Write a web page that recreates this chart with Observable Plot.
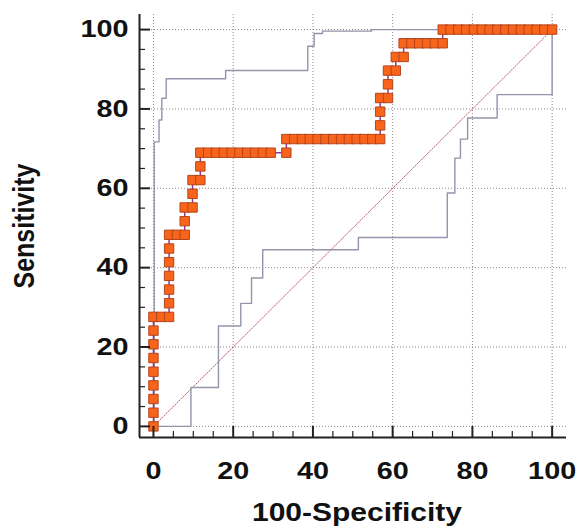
<!DOCTYPE html>
<html><head><meta charset="utf-8">
<script src="https://cdn.jsdelivr.net/npm/d3@7"></script>
<script src="https://cdn.jsdelivr.net/npm/@observablehq/plot@0.6"></script>
<style>
html,body{margin:0;padding:0;background:#fff;}
#chart svg{display:block;}
</style>
</head><body><div id="chart"></div>
<script>
// ROC curve points (100-Specificity, Sensitivity)
const rocX = [0,0,0,0,0,0,0,0,0, 1.96,3.92, 3.92,3.92,3.92,3.92,3.92,3.92, 5.88,7.84, 7.84,7.84,
  9.80,9.80,9.80, 11.76,11.76,11.76,
  13.73,15.69,17.65,19.61,21.57,23.53,25.49,27.45,29.41,33.33,
  33.33, 35.29,37.25,39.22,41.18,43.14,45.10,47.06,49.02,50.98,52.94,54.90,56.86,
  56.86,56.86,56.86, 58.82,58.82,58.82, 60.78,60.78, 62.75,62.75,
  64.71,66.67,68.63,70.59,72.55, 72.55,
  74.51,76.47,78.43,80.39,82.35,84.31,86.27,88.24,90.20,92.16,94.12,96.08,98.04,100];
const rocY = [0,3.45,6.90,10.34,13.79,17.24,20.69,24.14,27.59, 27.59,27.59, 31.03,34.48,37.93,41.38,44.83,48.28, 48.28,48.28, 51.72,55.17,
  55.17,58.62,62.07, 62.07,65.52,68.97,
  68.97,68.97,68.97,68.97,68.97,68.97,68.97,68.97,68.97,68.97,
  72.41, 72.41,72.41,72.41,72.41,72.41,72.41,72.41,72.41,72.41,72.41,72.41,72.41,
  75.86,79.31,82.76, 82.76,86.21,89.66, 89.66,93.10, 93.10,96.55,
  96.55,96.55,96.55,96.55,96.55, 100,
  100,100,100,100,100,100,100,100,100,100,100,100,100,100];
// Upper confidence bound (step corners)
const upperX = [0.2, 1.4, 2.1, 3.2, 18.1, 38.7, 40.3, 42.4, 54.7, 100];
const upperY = [0, 71.7, 77.2, 82.7, 87.6, 89.7, 95.8, 99.0, 99.6, 100];
// Lower confidence bound (step corners)
const lowerX = [0, 9.4, 16.3, 21.9, 24.6, 27.4, 51.4, 73.7, 75.6, 77.0, 78.8, 86.2, 100];
const lowerY = [0, 9.8, 25.3, 31.0, 37.4, 44.5, 47.6, 58.8, 67.6, 72.4, 77.7, 83.6, 100];
// Diagonal reference
const diag = [0, 100];
// Ticks
const majorTicks = [0, 20, 40, 60, 80, 100];
const minorTicks = [5, 10, 15, 25, 30, 35, 45, 50, 55, 65, 70, 75, 85, 90, 95];
const xTitle = "100-Specificity";
const yTitle = "Sensitivity";

const xDomain = [-3.5, 103.6];
const yDomain = [-2.8, 103.8];

const roc = rocX.map((x, i) => ({x, y: rocY[i]}));
const upper = upperX.map((x, i) => ({x, y: upperY[i]}));
const lower = lowerX.map((x, i) => ({x, y: lowerY[i]}));

const font = "'Liberation Sans', Arial, sans-serif";
const stretch = 1.2;

const chart = Plot.plot({
  width: 581,
  height: 530,
  marginLeft: 139,
  marginRight: 15,
  marginTop: 14,
  marginBottom: 93,
  style: {fontFamily: font, background: "#fff", color: "#111"},
  x: {domain: xDomain},
  y: {domain: yDomain},
  marks: [
    Plot.gridX(majorTicks, {stroke: "#8a8a8a", strokeOpacity: 1, strokeDasharray: "1,2"}),
    Plot.gridY(majorTicks, {stroke: "#8a8a8a", strokeOpacity: 1, strokeDasharray: "1,2"}),
    Plot.line(diag, {x: d => d, y: d => d, stroke: "#c0606e", strokeWidth: 1, strokeDasharray: "1.5,1.5"}),
    Plot.line(upper, {x: "x", y: "y", curve: "step-before", stroke: "#9494ac", strokeWidth: 1.4}),
    Plot.line(lower, {x: "x", y: "y", curve: "step-after", stroke: "#9494ac", strokeWidth: 1.4}),
    Plot.line(roc, {x: "x", y: "y", stroke: "#8e3a94", strokeWidth: 1.5}),
    Plot.dot(roc, {x: "x", y: "y", symbol: "square", r: 5.3, fill: "#f8651a", stroke: "#b5441c", strokeWidth: 1, fillOpacity: 1}),
    Plot.ruleX([xDomain[0]], {stroke: "#222", strokeWidth: 2}),
    Plot.ruleY([yDomain[0]], {stroke: "#222", strokeWidth: 2}),
    Plot.axisX(majorTicks, {tickSize: 11, dy: -11, strokeWidth: 2, stroke: "#222", fill: "none", label: null}),
    Plot.axisX(minorTicks, {tickSize: 6, dy: -6, strokeWidth: 1.2, stroke: "#222", fill: "none", label: null}),
    Plot.axisY(majorTicks, {tickSize: 11, dx: 11, strokeWidth: 2, stroke: "#222", fill: "none", label: null}),
    Plot.axisY(minorTicks, {tickSize: 6, dx: 6, strokeWidth: 1.2, stroke: "#222", fill: "none", label: null}),
    Plot.axisX(majorTicks, {tickSize: 0, tickPadding: 24, fontSize: 24, fontWeight: "bold", fill: "#111", label: null, fontFamily: font}),
    Plot.axisY(majorTicks, {tickSize: 0, tickPadding: 11, fontSize: 24, fontWeight: "bold", fill: "#111", label: null, fontFamily: font}),
    Plot.text([xTitle], {text: d => d, frameAnchor: "bottom", dx: 4, dy: 83, lineAnchor: "bottom", textAnchor: "middle", fontSize: 25, fontWeight: "bold", fill: "#111", fontFamily: font}),
    Plot.text([yTitle], {text: d => d, frameAnchor: "left", dx: -106, rotate: -90, lineAnchor: "bottom", textAnchor: "middle", fontSize: 25, fontWeight: "bold", fill: "#111", fontFamily: font})
  ]
});
document.getElementById("chart").appendChild(chart);

// The reference's lettering is slightly wide: stretch glyphs horizontally.
d3.select(chart).selectAll("text").each(function() {
  const t = this;
  const tr = t.getAttribute("transform") || "";
  if (/rotate/.test(tr)) {
    t.setAttribute("transform", tr + ` scale(1,${stretch})`);
  } else {
    const len = t.getComputedTextLength();
    if (len > 0) {
      t.setAttribute("textLength", (len * stretch).toFixed(1));
      t.setAttribute("lengthAdjust", "spacingAndGlyphs");
    }
  }
});
</script>
</body></html>
